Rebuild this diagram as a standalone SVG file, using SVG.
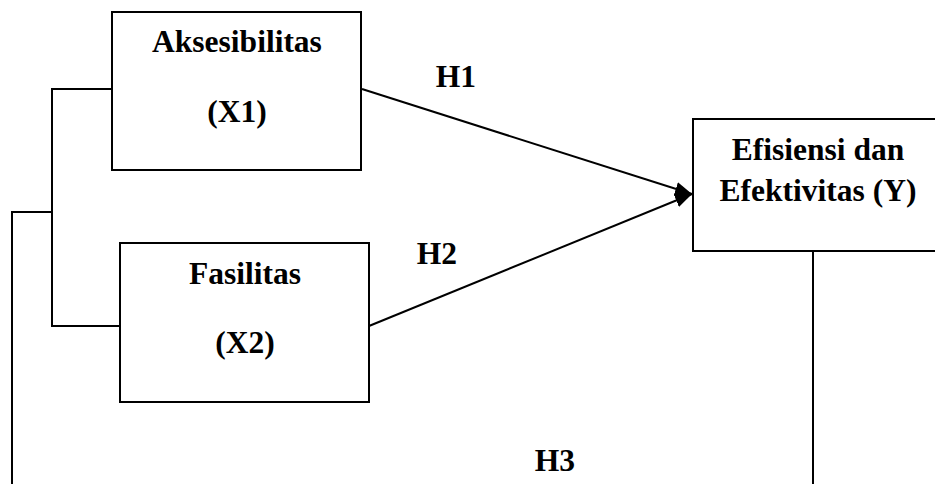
<svg xmlns="http://www.w3.org/2000/svg" width="935" height="484" viewBox="0 0 935 484">
<style>
.box{fill:#fff;stroke:#000;stroke-width:2}
.ln{fill:none;stroke:#000;stroke-width:2}
.t{font-family:"Liberation Serif","Times New Roman",serif;font-weight:bold;font-size:31.5px;fill:#000;text-anchor:middle}
</style>
<defs>
<marker id="ah" markerUnits="userSpaceOnUse" markerWidth="18" markerHeight="14" refX="17" refY="7" orient="auto">
<path d="M0,0 L17,7 L0,14 z" fill="#000"/>
</marker>
</defs>
<rect width="935" height="484" fill="#fff"/>
<g id="connectors">
<polyline class="ln" points="112,89 52,89 52,326 120,326"/>
<polyline class="ln" points="52,212 12,212 12,484"/>
<line class="ln" x1="813" y1="251" x2="813" y2="484"/>
<line class="ln" x1="362" y1="89" x2="692" y2="194" marker-end="url(#ah)"/>
<line class="ln" x1="369" y1="326" x2="692" y2="194" marker-end="url(#ah)"/>
<text class="t" x="456" y="87">H1</text>
<text class="t" x="437" y="264">H2</text>
<text class="t" x="555" y="471">H3</text>
</g>
<g id="x1">
<rect class="box" x="112" y="12" width="249" height="158"/>
<text class="t" x="237" y="52">Aksesibilitas</text>
<text class="t" x="237" y="122">(X1)</text>
</g>
<g id="x2">
<rect class="box" x="120" y="243" width="249" height="159"/>
<text class="t" x="245" y="284">Fasilitas</text>
<text class="t" x="245" y="353">(X2)</text>
</g>
<g id="y">
<rect class="box" x="693" y="119" width="252" height="132"/>
<text class="t" x="818" y="160">Efisiensi dan</text>
<text class="t" x="818" y="201">Efektivitas (Y)</text>
</g>
</svg>
